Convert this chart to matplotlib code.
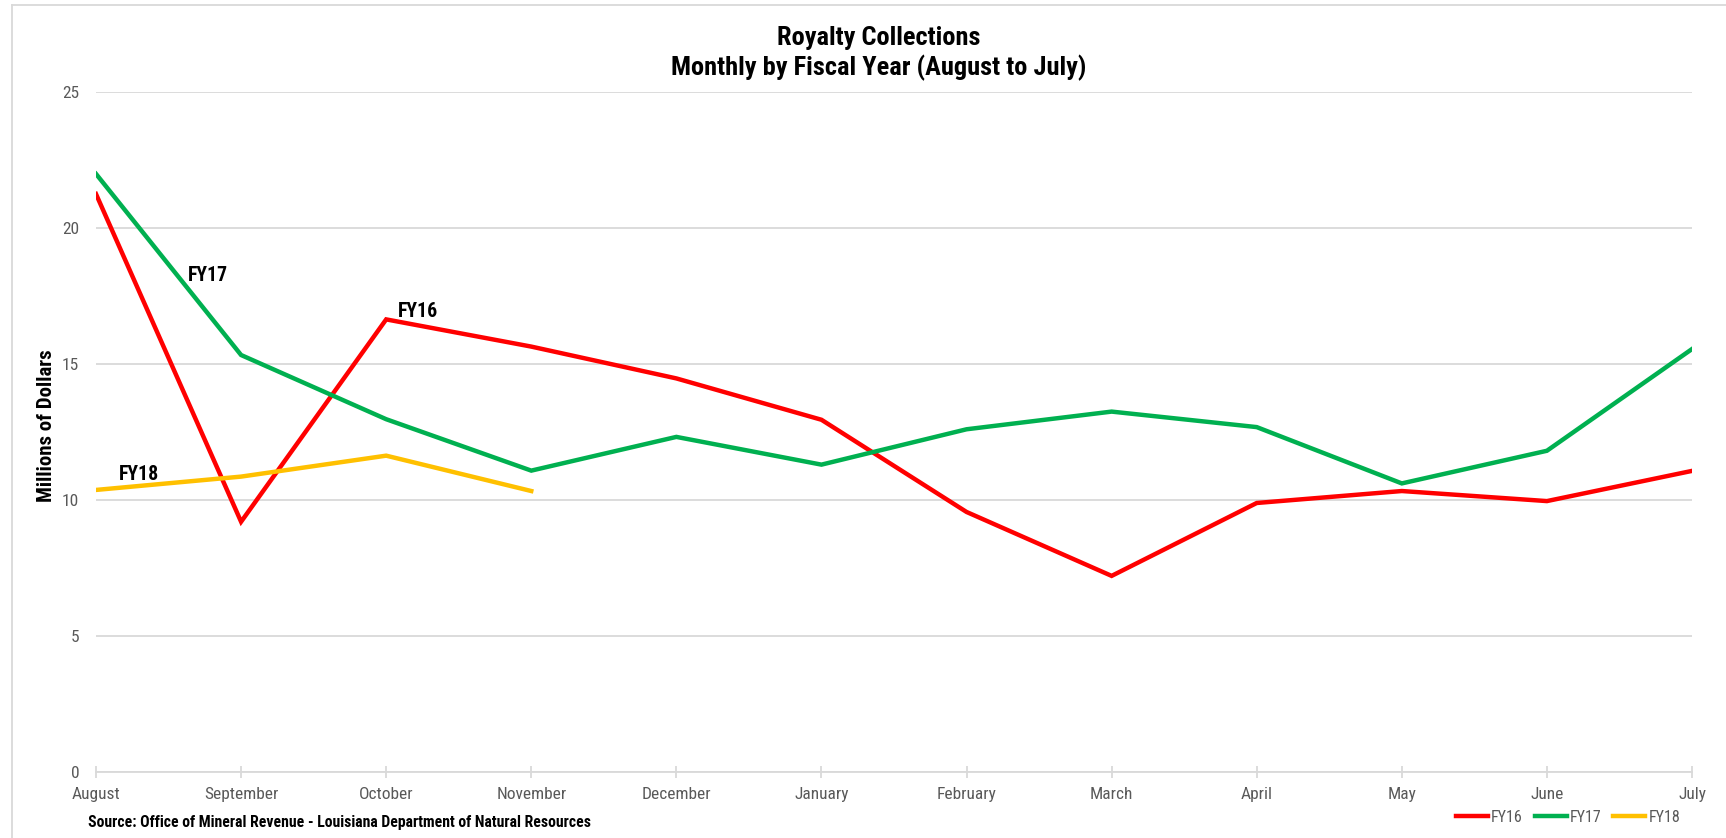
import matplotlib
matplotlib.use("Agg")
import matplotlib.pyplot as plt
from matplotlib import font_manager
from matplotlib.lines import Line2D

months = ["August", "September", "October", "November", "December", "January",
          "February", "March", "April", "May", "June", "July"]
fy16 = [21.25, 9.20, 16.64, 15.64, 14.47, 12.95, 9.56, 7.21, 9.89, 10.33, 9.96, 11.07]
fy17 = [21.99, 15.33, 12.97, 11.08, 12.32, 11.30, 12.60, 13.25, 12.68, 10.61, 11.81, 15.55]
fy18 = [10.37, 10.86, 11.63, 10.33]
yticks = [0, 5, 10, 15, 20, 25]

# pick a narrow sans if one is installed
names = {f.name for f in font_manager.fontManager.ttflist}
FONT = "DejaVu Sans"
for cand in ["Liberation Sans Narrow", "Roboto Condensed", "Liberation Sans", "Arial"]:
    if cand in names:
        FONT = cand
        break
plt.rcParams["font.family"] = [FONT, "DejaVu Sans"]

RED, GREEN, YELLOW = "#FF0000", "#00B050", "#FFC000"
GRID = "#D9D9D9"
TXT = "#595959"
W, H = 1726, 838

fig = plt.figure(figsize=(W / 100, H / 100), dpi=100)
ax = fig.add_axes([96 / W, 1 - 772 / H, 1596 / W, 680 / H])

x = list(range(len(months)))
ax.plot(x, fy16, color=RED, lw=3.2, solid_joinstyle="miter", zorder=3)
ax.plot(x, fy17, color=GREEN, lw=3.2, solid_joinstyle="miter", zorder=3)
ax.plot(x[:len(fy18)], fy18, color=YELLOW, lw=3.2, solid_joinstyle="miter", zorder=3)

ax.set_xlim(0, len(months) - 1)
ax.set_ylim(0, 25)
ax.set_yticks(yticks)
ax.set_xticks(x)
ax.set_xticklabels(months)
ax.yaxis.grid(True, color=GRID, lw=1.3)
ax.set_axisbelow(True)
for s in ["top", "right", "left"]:
    ax.spines[s].set_visible(False)
ax.spines["bottom"].set_color(GRID)
ax.spines["bottom"].set_linewidth(1.3)
ax.tick_params(axis="x", direction="inout", length=8, width=1.3, color=GRID,
               labelsize=12.5, labelcolor=TXT, pad=6.5)
ax.tick_params(axis="y", length=0, labelsize=12.5, labelcolor=TXT, pad=12)
ax.set_ylabel("Millions of Dollars", fontsize=15, fontweight="bold")
ax.yaxis.set_label_coords(-40 / 1596, 0.51)

ax.text(0.63, 18.27, "FY17", fontsize=14.2, fontweight="bold", va="center", ha="left")
ax.text(2.08, 16.94, "FY16", fontsize=14.2, fontweight="bold", va="center", ha="left")
ax.text(0.16, 10.94, "FY18", fontsize=14.2, fontweight="bold", va="center", ha="left")

fig.text(879 / W, 1 - 38 / H, "Royalty Collections", fontsize=19, fontweight="bold",
         ha="center", va="center")
fig.text(879 / W, 1 - 68 / H, "Monthly by Fiscal Year (August to July)", fontsize=19,
         fontweight="bold", ha="center", va="center")

fig.text(88 / W, 1 - 822 / H,
         "Source: Office of Mineral Revenue - Louisiana Department of Natural Resources",
         fontsize=11.3, fontweight="bold", ha="left", va="center")

handles = [Line2D([], [], color=c, lw=3.2) for c in (RED, GREEN, YELLOW)]
leg = fig.legend(handles, ["FY16", "FY17", "FY18"], loc="center",
                 bbox_to_anchor=(1568 / W, 1 - 817 / H), ncol=3, frameon=False,
                 fontsize=11.5, handlelength=2.0, handletextpad=0.2, columnspacing=0.75)
for t in leg.get_texts():
    t.set_color(TXT)

# chart frame (top and left edges visible in the crop)
fig.add_artist(Line2D([12 / W, 1.0], [1 - 5 / H, 1 - 5 / H], color=GRID, lw=1.3))
fig.add_artist(Line2D([12 / W, 12 / W], [0, 1 - 5 / H], color=GRID, lw=1.3))

fig.savefig("out.png", dpi=100)
